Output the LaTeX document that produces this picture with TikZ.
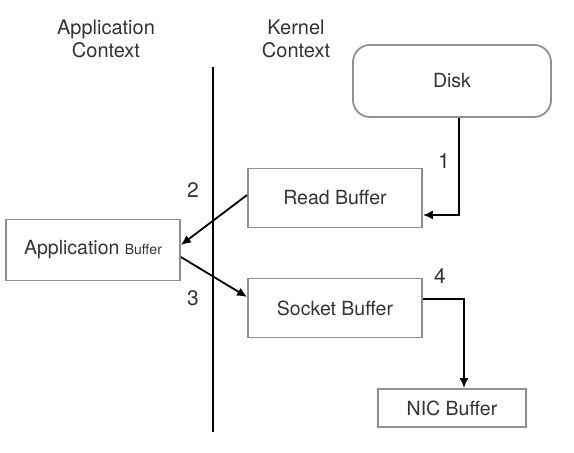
\documentclass[tikz,border=0pt]{standalone}
\usepackage{fontspec}
\setmainfont{TeX Gyre Heros}
\usepackage{tikz}
\usetikzlibrary{arrows.meta}
\definecolor{boxgray}{HTML}{909090}
\definecolor{txtgray}{HTML}{333333}
\tikzstyle{every node}=[text=txtgray,font=\fontsize{19.5}{23}\selectfont]
\tikzstyle{buffer}=[draw=boxgray,line width=1.8pt,inner sep=0pt,minimum width=174pt,minimum height=59pt]
\tikzstyle{step label}=[font=\fontsize{21}{24}\selectfont]
\tikzstyle{flow}=[line width=1.8pt,-{Latex[length=10pt,width=9pt]}]

\begin{document}
\begin{tikzpicture}[x=1pt,y=-1pt]
    \useasboundingbox (0,0) rectangle (574,453);
    % context headings
    \node[align=center,font=\fontsize{20}{23}\selectfont] (appctx) at (106,39) {Application\\Context};
    \node[align=center,font=\fontsize{20}{23}\selectfont] (kerctx) at (296,39) {Kernel\\Context};
    \draw[line width=1.8pt] (213,67) -- (213,432);
    % buffers
    \node[buffer,rounded corners=17pt,minimum width=198pt,minimum height=72pt] (disk) at (452,81) {Disk};
    \node[buffer] (rb) at (335,198) {Read Buffer};
    \node[buffer,minimum height=61pt] (ab) at (93,250) {Application {\fontsize{14}{16}\selectfont Buffer}};
    \node[buffer] (sb) at (335,308) {Socket Buffer};
    \node[buffer,minimum width=148pt,minimum height=38pt] (nic) at (452,408) {NIC Buffer};
    % copies
    \draw[flow] ([xshift=7pt]disk.south) |- ([yshift=-17pt]rb.east);
    \draw[flow] ([yshift=3pt]rb.west) -- ([yshift=5pt]ab.east);
    \draw[flow] ([yshift=-7pt]ab.east) -- ([yshift=11pt]sb.west);
    \draw[flow] ([yshift=9pt]sb.east) -| ([xshift=12pt]nic.north);
    \node[step label] (n1) at (444,161) {1};
    \node[step label] (n2) at (193,190) {2};
    \node[step label] (n3) at (193,298) {3};
    \node[step label] (n4) at (440,276) {4};
\end{tikzpicture}
\end{document}
